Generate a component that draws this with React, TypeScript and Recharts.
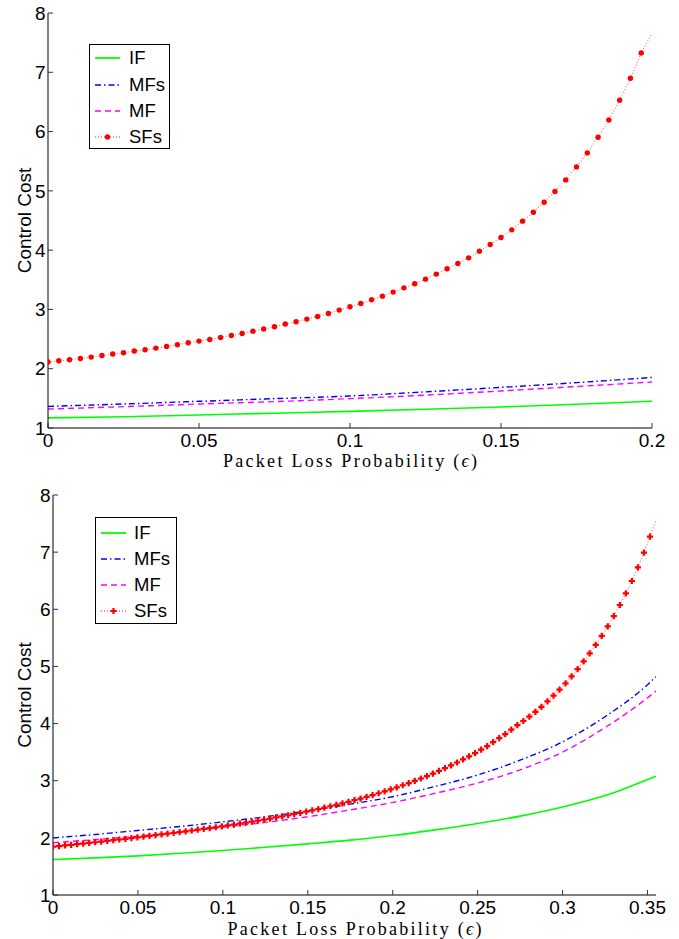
import { LineChart, Line, XAxis, YAxis } from 'recharts';

const seriesNames = ['IF', 'MFs', 'MF', 'SFs'];
const seriesColors = ['#00ff00', '#0000ff', '#ff00ff', '#ff0000'];
const seriesDash = ['', '6 3 1.5 3', '6 4', '1 2'];

const yTicks = [1, 2, 3, 4, 5, 6, 7, 8];

// top panel (eps 0 .. 0.2)
const topXTicks = [0, 0.05, 0.1, 0.15, 0.2];
const topLineEps = [0, 0.025, 0.05, 0.075, 0.1, 0.125, 0.15, 0.175, 0.2];
const topIF = [1.17, 1.19, 1.22, 1.25, 1.28, 1.315, 1.355, 1.4, 1.45];
const topMFs = [1.365, 1.405, 1.45, 1.495, 1.54, 1.61, 1.685, 1.765, 1.853];
const topMF = [1.32, 1.36, 1.405, 1.445, 1.495, 1.555, 1.625, 1.7, 1.775];
const topSfsStep = 0.2 / 56;
const topSFs = [
  2.112, 2.134, 2.151, 2.173, 2.196, 2.224, 2.247, 2.269, 2.298, 2.32,
  2.348, 2.376, 2.404, 2.438, 2.466, 2.494, 2.527, 2.561, 2.595, 2.634,
  2.669, 2.707, 2.753, 2.792, 2.837, 2.881, 2.932, 2.989, 3.044, 3.1,
  3.162, 3.224, 3.292, 3.364, 3.432, 3.511, 3.596, 3.685, 3.774, 3.87,
  3.983, 4.095, 4.213, 4.342, 4.489, 4.64, 4.809, 4.988, 5.185, 5.404,
  5.64, 5.905, 6.196, 6.528, 6.899, 7.326, 7.66,
];

// bottom panel (eps 0 .. 0.355)
const bottomXTicks = [0, 0.05, 0.1, 0.15, 0.2, 0.25, 0.3, 0.35];
const bottomLineEps = [0, 0.025, 0.05, 0.075, 0.1, 0.125, 0.15, 0.175, 0.2, 0.225, 0.25, 0.275, 0.3, 0.325, 0.35, 0.355];
const bottomIF = [1.62, 1.65, 1.685, 1.73, 1.78, 1.835, 1.895, 1.96, 2.04, 2.14, 2.25, 2.38, 2.54, 2.74, 3.02, 3.08];
const bottomMFs = [2.0, 2.06, 2.13, 2.2, 2.28, 2.37, 2.47, 2.59, 2.72, 2.9, 3.1, 3.36, 3.68, 4.12, 4.68, 4.82];
const bottomMF = [1.915, 1.97, 2.03, 2.1, 2.19, 2.27, 2.37, 2.49, 2.62, 2.78, 2.96, 3.19, 3.5, 3.93, 4.45, 4.57];
const bottomSfsStep = 0.00355;
const bottomSFs = [
  1.845, 1.856, 1.867, 1.878, 1.889, 1.9, 1.911, 1.923, 1.935, 1.947,
  1.959, 1.971, 1.983, 1.996, 2.009, 2.021, 2.034, 2.047, 2.06, 2.074,
  2.087, 2.101, 2.115, 2.129, 2.143, 2.157, 2.172, 2.186, 2.201, 2.217,
  2.233, 2.25, 2.267, 2.284, 2.302, 2.32, 2.338, 2.357, 2.376, 2.396,
  2.416, 2.437, 2.458, 2.481, 2.504, 2.528, 2.553, 2.578, 2.604, 2.631,
  2.659, 2.688, 2.718, 2.749, 2.781, 2.814, 2.848, 2.884, 2.921, 2.959,
  2.998, 3.039, 3.081, 3.125, 3.171, 3.219, 3.268, 3.319, 3.372, 3.427,
  3.484, 3.543, 3.607, 3.674, 3.744, 3.817, 3.893, 3.972, 4.045, 4.123,
  4.205, 4.292, 4.39, 4.488, 4.594, 4.705, 4.826, 4.953, 5.088, 5.23,
  5.378, 5.535, 5.7, 5.88, 6.075, 6.28, 6.495, 6.735, 6.99, 7.27,
  7.556,
];

const FONT = '"Liberation Sans", Arial, Helvetica, sans-serif';
const SERIF = '"Liberation Serif", "DejaVu Serif", serif';

const pairs = (xs: number[], ys: number[]) => xs.map((x, i) => ({ eps: x, cost: ys[i] }));
const stepped = (step: number, ys: number[]) => ys.map((y, i) => ({ eps: i * step, cost: y }));

// last point sits on the right border, matlab shows no marker there
const roundDot = (last: number) => (p: any) =>
  p.index === last ? <g key={`d${p.index}`} /> : <circle key={`d${p.index}`} cx={p.cx} cy={p.cy} r={2.7} fill="#ff0000" />;

const plusDot = (last: number) => (p: any) =>
  p.index === last ? (
    <g key={`d${p.index}`} />
  ) : (
    <path
      key={`d${p.index}`}
      d={`M${p.cx - 3.1},${p.cy}H${p.cx + 3.1}M${p.cx},${p.cy - 3.1}V${p.cy + 3.1}`}
      stroke="#ff0000"
      strokeWidth={2.2}
    />
  );

function LegendBox({ left, top, width, height, rows, textX, marker }: any) {
  return (
    <div style={{ position: 'absolute', left, top, width, height, border: '1px solid #000', boxSizing: 'border-box', background: '#fff' }}>
      {seriesNames.map((name, i) => (
        <div key={name} style={{ position: 'absolute', left: 0, top: rows[i] - 10, height: 20, width: '100%' }}>
          <svg width={32} height={20} style={{ position: 'absolute', left: 4, top: 0 }}>
            <line x1={1} y1={10} x2={26} y2={10} stroke={seriesColors[i]} strokeWidth={i === 0 ? 1.8 : 1.4} strokeDasharray={seriesDash[i] || undefined} strokeOpacity={i === 3 ? 0.6 : 1} />
            {i === 3 && marker === 'dot' && <circle cx={13.5} cy={10} r={2.7} fill="#ff0000" />}
            {i === 3 && marker === 'plus' && <path d="M10.4,10H16.6M13.5,6.9V13.1" stroke="#ff0000" strokeWidth={2.2} />}
          </svg>
          <span style={{ position: 'absolute', left: textX, top: 0, lineHeight: '20px', fontFamily: FONT, fontSize: 18.5, color: '#000' }}>{name}</span>
        </div>
      ))}
    </div>
  );
}

function Panel({ height, mTop, axisLeft, mRight, axisHeight, xMax, xTicks, lines, sfs, sfsDot, tickGap, labelBase, top }: any) {
  const tickStyle = { fill: '#000', fontSize: 19, fontFamily: FONT };
  return (
    <div style={{ position: 'absolute', left: 0, top }}>
      <LineChart width={679} height={height} margin={{ top: mTop, right: mRight, left: 0, bottom: 0 }}>
        <XAxis
          dataKey="eps"
          type="number"
          domain={[0, xMax]}
          ticks={xTicks}
          interval={0}
          allowDataOverflow
          height={axisHeight}
          tickSize={-5}
          tickMargin={5 + tickGap}
          tick={tickStyle}
          tickFormatter={(v: number) => String(v)}
          axisLine={{ stroke: '#000', strokeWidth: 1 }}
          tickLine={{ stroke: '#333' }}
          label={{
            content: (p: any) => (
              <text x={p.viewBox.x + p.viewBox.width / 2} y={p.viewBox.y + labelBase} textAnchor="middle" fontFamily={SERIF} fontSize={18} textLength={254} lengthAdjust="spacing" fill="#000">
                Packet Loss Probability (<tspan fontStyle="italic">ϵ</tspan>)
              </text>
            ),
          }}
        />
        <XAxis xAxisId="t" orientation="top" dataKey="eps" type="number" domain={[0, xMax]} ticks={xTicks} interval={0} height={0} tickSize={-5} tickFormatter={() => ''} axisLine={{ stroke: '#000' }} tickLine={{ stroke: '#333' }} />
        <YAxis
          type="number"
          domain={[1, 8]}
          ticks={yTicks}
          interval={0}
          allowDataOverflow
          width={axisLeft}
          tickSize={-5}
          tickMargin={7.5}
          tick={tickStyle}
          axisLine={{ stroke: '#000', strokeWidth: 1 }}
          tickLine={{ stroke: '#333' }}
          label={{
            content: (p: any) => {
              const cy = p.viewBox.y + p.viewBox.height / 2;
              return (
                <text x={24} y={cy} transform={`rotate(-90 24 ${cy})`} textAnchor="middle" dominantBaseline="central" fontFamily={FONT} fontSize={19} fill="#000">
                  Control Cost
                </text>
              );
            },
          }}
        />
        <YAxis yAxisId="r" orientation="right" type="number" domain={[1, 8]} ticks={yTicks} interval={0} width={0} tickSize={-5} tickFormatter={() => ''} axisLine={{ stroke: '#000' }} tickLine={{ stroke: '#333' }} />
        {lines.map((ys: number[], i: number) => (
          <Line
            key={seriesNames[i]}
            data={ys}
            dataKey="cost"
            type="monotone"
            stroke={seriesColors[i]}
            strokeWidth={i === 0 ? 1.6 : 1.4}
            strokeDasharray={seriesDash[i] || undefined}
            dot={false}
            activeDot={false}
            isAnimationActive={false}
          />
        ))}
        <Line
          data={sfs}
          dataKey="cost"
          type="linear"
          stroke="#ff0000"
          strokeOpacity={0.55}
          strokeWidth={1.2}
          strokeDasharray="1 2"
          dot={sfsDot}
          activeDot={false}
          isAnimationActive={false}
        />
      </LineChart>
    </div>
  );
}

export default function App() {
  const topLines = [pairs(topLineEps, topIF), pairs(topLineEps, topMFs), pairs(topLineEps, topMF)];
  const bottomLines = [pairs(bottomLineEps, bottomIF), pairs(bottomLineEps, bottomMFs), pairs(bottomLineEps, bottomMF)];
  return (
    <div style={{ position: 'absolute', left: 0, top: 0, width: 679, height: 939, background: '#fff', overflow: 'hidden' }}>
      <Panel
        top={0}
        height={482}
        mTop={13}
        axisLeft={48}
        mRight={27}
        axisHeight={54}
        xMax={0.2}
        xTicks={topXTicks}
        lines={topLines}
        sfs={stepped(topSfsStep, topSFs)}
        sfsDot={roundDot(topSFs.length - 1)}
        tickGap={6}
        labelBase={39}
      />
      <Panel
        top={470}
        height={469}
        mTop={25}
        axisLeft={53}
        mRight={23}
        axisHeight={44}
        xMax={0.355}
        xTicks={bottomXTicks}
        lines={bottomLines}
        sfs={stepped(bottomSfsStep, bottomSFs)}
        sfsDot={plusDot(bottomSFs.length - 1)}
        tickGap={6}
        labelBase={40}
      />
      <LegendBox left={89} top={44} width={81} height={105} rows={[13, 39.5, 66, 91.5]} textX={39} marker="dot" />
      <LegendBox left={95} top={517} width={82} height={107} rows={[15, 41, 67, 93]} textX={38} marker="plus" />
    </div>
  );
}
